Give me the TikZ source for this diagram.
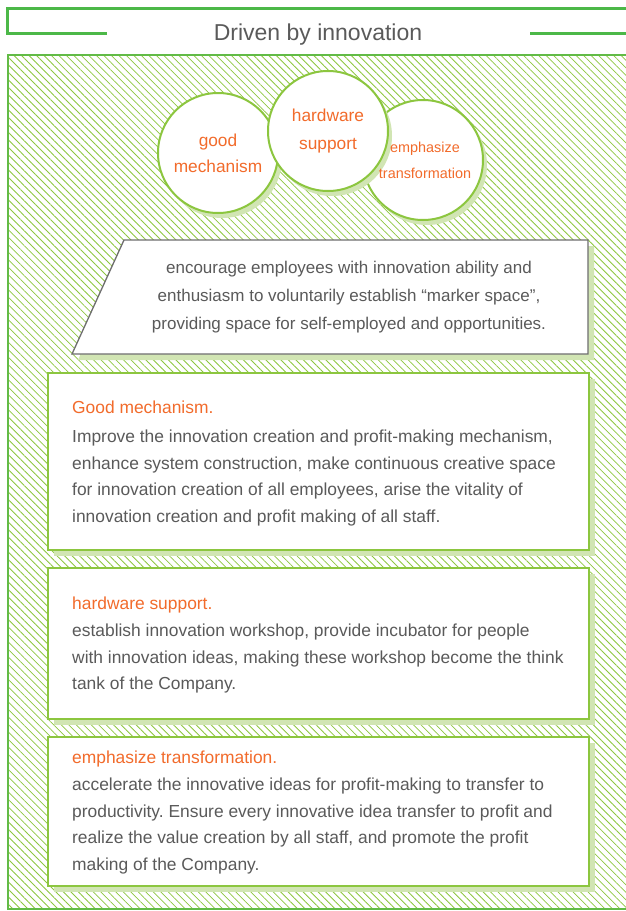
\documentclass[tikz,border=0pt]{standalone}
\usepackage{fontspec}
\setmainfont{Liberation Sans}
\usepackage{xcolor}
\usepackage{tikz}
\usetikzlibrary{positioning}
\usetikzlibrary{shadows,patterns.meta}
\definecolor{headgreen}{HTML}{4CB848}
\definecolor{framegreen}{HTML}{62BB46}
\definecolor{boxgreen}{HTML}{8CC63F}
\definecolor{shadegreen}{HTML}{D1E5B3}
\definecolor{hatchgreen}{HTML}{8DC63F}
\definecolor{titleorange}{HTML}{F26B2B}
\definecolor{textgray}{HTML}{5A5A5A}
\definecolor{edgegray}{HTML}{6E6E6E}
\tikzset{shade box/.style = {drop shadow={shadow xshift=6pt,shadow yshift=-6pt,fill=shadegreen,opacity=1}}}
\frenchspacing

\begin{document}
\begin{tikzpicture}[x=1pt,y=-1pt,
    idea/.style={circle,draw=boxgreen,line width=2pt,fill=white,minimum size=120pt,inner sep=1pt,align=center,text=titleorange,
                 drop shadow={shadow xshift=4pt,shadow yshift=-5pt,fill=shadegreen,opacity=1}},
    info box/.style={rectangle,draw=boxgreen,line width=2.4pt,fill=white,shade box,minimum width=541pt,anchor=north west},
    head text/.style={anchor=base west,inner sep=0pt,text=titleorange,font=\fontsize{17.4}{20}\selectfont},
    body text/.style={anchor=north west,inner sep=0pt,align=left,text=textgray,font=\fontsize{17.4}{26.5}\selectfont}]
    \useasboundingbox (0,0) rectangle (625,911);

    % header
    \node[text=textgray,font=\fontsize{23}{26}\selectfont,anchor=base] (title) at (318,40) {Driven by innovation};
    \draw[headgreen,line width=3pt] (107,33) -- (7,33) -- (7,8) -- (632,8);
    \draw[headgreen,line width=3pt] (530,33) -- (632,33);

    % hatched frame
    \draw[framegreen,line width=2.5pt,pattern={Lines[angle=-45,distance=5.3pt,line width=0.8pt]},pattern color=hatchgreen]
        (8,55) rectangle (632,909);

    % three circles
    \node[idea,font=\fontsize{17.3}{26}\selectfont] (gm) at (218,153) {good\\mechanism};
    \node[idea] (et) at (423,160) {};
    \node[idea,font=\fontsize{17.3}{28}\selectfont] (hs) at (328,131) {hardware\\support};
    \node[align=center,text=titleorange,font=\fontsize{14.4}{26}\selectfont] (et text) at ([xshift=2pt]et.center)
        {emphasize\\transformation};

    % parallelogram
    \draw[edgegray,line width=1.3pt,fill=white,shade box] (124,240) -- (588,240) -- (588,354) -- (72,354) -- cycle;
    \node[align=center,text=textgray,font=\fontsize{17}{28}\selectfont] (intro) at (349,297)
        {encourage employees with innovation ability and\\
         enthusiasm to voluntarily establish “marker space",\\
         providing space for self-employed and opportunities.};

    % boxes
    \node[info box,minimum height=177pt] (b1) at (47,372) {};
    \node[info box,minimum height=151pt] (b2) at (47,567) {};
    \node[info box,minimum height=149pt] (b3) at (47,736) {};

    \node[head text] (h1) at (72,413) {Good mechanism.};
    \node[body text] (t1) at (72,430) {Improve the innovation creation and profit-making mechanism,\\
        enhance system construction, make continuous creative space\\
        for innovation creation of all employees, arise the vitality of\\
        innovation creation and profit making of all staff.};

    \node[head text] (h2) at (72,609) {hardware support.};
    \node[body text] (t2) at (72,624) {establish innovation workshop, provide incubator for people\\
        with innovation ideas, making these workshop become the think\\
        tank of the Company.};

    \node[head text] (h3) at (72,763) {emphasize transformation.};
    \node[body text] (t3) at (72,778) {accelerate the innovative ideas for profit-making to transfer to\\
        productivity. Ensure every innovative idea transfer to profit and\\
        realize the value creation by all staff, and promote the profit\\
        making of the Company.};
\end{tikzpicture}
\end{document}
